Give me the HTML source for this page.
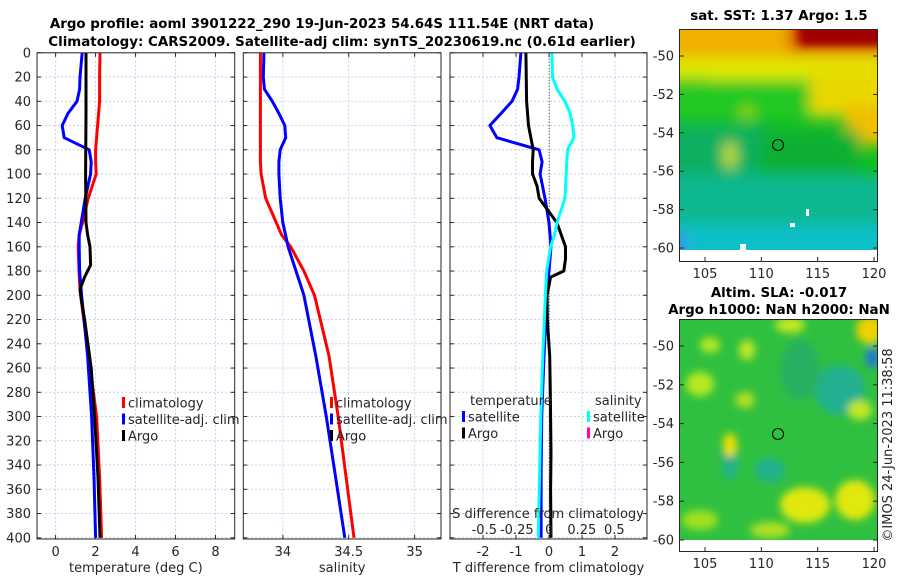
<!DOCTYPE html>
<html><head><meta charset="utf-8"><style>
body{margin:0;background:#fff;}
svg{display:block;font-family:"DejaVu Sans","Liberation Sans",sans-serif;}
.t{font-size:13px;fill:#262626}
.b{font-weight:bold;font-size:13.4px;fill:#000}
</style></head><body>
<svg id="fig" width="900" height="580" viewBox="0 0 900 580">
<defs>
<filter id="bl" filterUnits="userSpaceOnUse" x="600" y="0" width="300" height="580"><feGaussianBlur stdDeviation="7"/></filter>
<filter id="bl2" filterUnits="userSpaceOnUse" x="600" y="0" width="300" height="580"><feGaussianBlur stdDeviation="4"/></filter>
<clipPath id="c1"><rect x="680" y="29" width="197" height="221"/></clipPath>
<clipPath id="c2"><rect x="680" y="319" width="197" height="221"/></clipPath>
</defs>
<text class="b" x="322" y="28" text-anchor="middle">Argo profile: aoml 3901222_290 19-Jun-2023 54.64S 111.54E (NRT data)</text>
<text class="b" x="342" y="46" text-anchor="middle">Climatology: CARS2009. Satellite-adj clim: synTS_20230619.nc (0.61d earlier)</text>

<g id="panels"></g>

<!-- top map -->
<g clip-path="url(#c1)">
<rect x="680" y="29" width="197" height="221" fill="#10c020"/>
<g filter="url(#bl)">
<rect x="660" y="10" width="240" height="55" fill="#f0b000"/>
<rect x="660" y="58" width="240" height="22" fill="#e0e800"/>
<rect x="660" y="75" width="50" height="35" fill="#b0e010"/>
<rect x="660" y="80" width="240" height="40" fill="#20c820"/>
<rect x="810" y="70" width="90" height="45" fill="#e8d800"/>
<rect x="845" y="105" width="50" height="40" fill="#f0c000"/>
<rect x="790" y="10" width="110" height="40" fill="#c82000"/>
<rect x="660" y="125" width="110" height="55" fill="#10b060"/>
<rect x="760" y="130" width="100" height="70" fill="#10b030"/>
<rect x="660" y="175" width="240" height="90" fill="#10b890"/>
<rect x="660" y="225" width="240" height="40" fill="#10c0c8"/>
<rect x="660" y="232" width="25" height="30" fill="#3090f0"/>
<ellipse cx="730" cy="155" rx="5" ry="13" fill="#e8f000"/>
<ellipse cx="747" cy="113" rx="6" ry="5" fill="#c0e000"/>
</g>
<rect x="800" y="20" width="85" height="25" fill="#a00000" filter="url(#bl2)"/>
<rect x="740" y="244" width="6" height="6" fill="#fff"/>
<rect x="790" y="223" width="5" height="4" fill="#fff"/>
<rect x="806" y="209" width="3" height="7" fill="#fff"/>
</g>
<rect x="680" y="250" width="197" height="11" fill="#fff"/>
<rect x="679.5" y="29.5" width="198" height="232" fill="none" stroke="#262626"/>
<circle cx="778" cy="145" r="5.5" fill="none" stroke="#000"/>
<text class="b" x="779" y="20" text-anchor="middle">sat. SST: 1.37 Argo: 1.5</text>

<!-- bottom map -->
<g clip-path="url(#c2)">
<rect x="680" y="319" width="197" height="221" fill="#30c040"/>
<g filter="url(#bl2)">
<ellipse cx="700" cy="384" rx="14" ry="12" fill="#b8e820"/>
<ellipse cx="710" cy="345" rx="10" ry="8" fill="#b0e820"/>
<ellipse cx="747" cy="350" rx="8" ry="10" fill="#c0e820"/>
<ellipse cx="745" cy="400" rx="10" ry="8" fill="#b0e020"/>
<ellipse cx="790" cy="325" rx="15" ry="8" fill="#c0e820"/>
<ellipse cx="870" cy="330" rx="14" ry="14" fill="#f0d000"/>
<ellipse cx="872" cy="358" rx="6" ry="10" fill="#2070e0"/>
<ellipse cx="840" cy="390" rx="25" ry="25" fill="#20b090"/>
<ellipse cx="800" cy="370" rx="20" ry="30" fill="#28b060"/>
<ellipse cx="730" cy="460" rx="8" ry="20" fill="#20b090"/>
<ellipse cx="770" cy="470" rx="15" ry="12" fill="#20b090"/>
<ellipse cx="730" cy="445" rx="7" ry="12" fill="#f0e000"/>
<ellipse cx="805" cy="505" rx="25" ry="18" fill="#e0e810"/>
<ellipse cx="855" cy="500" rx="20" ry="20" fill="#e0e810"/>
<ellipse cx="860" cy="410" rx="12" ry="10" fill="#c0e820"/>
<ellipse cx="770" cy="530" rx="20" ry="8" fill="#b0e020"/>
<ellipse cx="700" cy="520" rx="18" ry="10" fill="#a0e020"/>
</g>
</g>
<rect x="679.5" y="319.5" width="198" height="232" fill="none" stroke="#262626"/>
<circle cx="778" cy="434" r="5.5" fill="none" stroke="#000"/>
<text class="b" x="779" y="297" text-anchor="middle">Altim. SLA: -0.017</text>
<text class="b" x="779" y="314" text-anchor="middle">Argo h1000: NaN h2000: NaN</text>
<text class="t" transform="translate(892,445) rotate(-90)" text-anchor="middle">©IMOS 24-Jun-2023 11:38:58</text>
<g id="maps"></g>
</svg>
<script>
// ---- data ----
const depths = [0,20,30,40,50,60,70,80,90,100,120,140,150,160,180,190,200,250,300,350,400];
const tempClim = [2.22,2.2,2.2,2.2,2.15,2.1,2.05,2.0,2.0,2.03,1.63,1.35,1.18,1.13,1.17,1.2,1.25,1.65,2.05,2.2,2.3];
const tempSat = [1.33,1.22,1.2,1.07,0.62,0.33,0.43,1.68,1.78,1.75,1.48,1.28,1.18,1.18,1.2,1.25,1.3,1.6,1.8,1.92,2.0];
const argoDepths = [0,50,100,140,150,160,175,185,195,205,220,260,300,350,400];
const tempArgo = [1.52,1.52,1.5,1.52,1.6,1.72,1.75,1.45,1.22,1.3,1.45,1.78,1.95,2.12,2.22];
const salClim = [33.83,33.83,33.83,33.83,33.83,33.83,33.83,33.83,33.83,33.835,33.87,33.95,33.99,34.06,34.16,34.2,34.24,34.35,34.42,34.48,34.54];
const salSat = [33.856,33.852,33.86,33.92,33.97,34.015,34.022,33.98,33.97,33.97,33.98,34.0,34.02,34.04,34.1,34.13,34.16,34.25,34.33,34.4,34.47];
const dTsat = [-0.85,-0.91,-0.95,-1.12,-1.45,-1.79,-1.58,-0.3,-0.21,-0.27,-0.12,0,0.03,0.06,0.0,-0.04,-0.06,-0.15,-0.22,-0.24,-0.24];
const dTargo = [-0.7,-0.68,-0.62,-0.48,-0.5,-0.5,-0.36,-0.3,0.24,0.5,0.5,0.45,0.05,-0.06,-0.05,0.02,0.04,0.05,0.06,0.05,0.06];
const dTargoDepths = [0,40,60,80,90,100,110,120,140,160,170,180,185,200,220,250,280,300,330,360,400];
const dSsat = [0.02,0.025,0.06,0.12,0.16,0.18,0.19,0.14,0.135,0.13,0.12,0.06,0.04,0.01,-0.02,-0.025,-0.03,-0.05,-0.065,-0.075,-0.085];
const depthTicks = [0,20,40,60,80,100,120,140,160,180,200,220,240,260,280,300,320,340,360,380,400];
const tTicks = [0,2,4,6,8];
const sTicks = [34,34.5,35];
const dtTicks = [-2,-1,0,1,2];
const dsTicks = [-0.5,-0.25,0,0.25,0.5];
const dsTickLabels = ["-0.5","-0.25","0","0.25","0.5"];
const latTicks = [-50,-52,-54,-56,-58,-60];
const lonTicks = [105,110,115,120];

const NS='http://www.w3.org/2000/svg';
const root=document.getElementById('panels');
function mk(tag,attrs,parent){const e=document.createElementNS(NS,tag);for(const k in attrs)e.setAttribute(k,attrs[k]);(parent||root).appendChild(e);return e;}
const Y0=52.8, YK=1.2125;
const yS=d=>Y0+d*YK;
const P=[
 {l:37,r:234.7,xmin:-0.93,xmax:8.96,name:'temperature'},
 {l:243.3,r:441,xmin:33.7,xmax:35.2,name:'salinity'},
 {l:450,r:647,xmin:-3.0,xmax:2.97,name:'difference'}];
function xf(p,v){return p.l+(v-p.xmin)/(p.xmax-p.xmin)*(p.r-p.l);}
const dsScale=v=>549.3+v*130;

function panel(i,ticks,labels,xlabel){
 const p=P[i];
 const g=mk('g',{});
 
 
 ticks.forEach(t=>{const x=xf(p,t);mk('line',{x1:x,x2:x,y1:52.8,y2:538,stroke:'#c8cff0','stroke-dasharray':'2,2','stroke-width':1},g);});
 depthTicks.forEach(d=>{const y=yS(d);mk('line',{x1:p.l,x2:p.r,y1:y,y2:y,stroke:'#c8cff0','stroke-dasharray':'2,2'},g);
  mk('line',{x1:p.l,x2:p.l+4,y1:y,y2:y,stroke:'#262626'},g);mk('line',{x1:p.r-4,x2:p.r,y1:y,y2:y,stroke:'#262626'},g);});
 ticks.forEach((t,k)=>{const x=xf(p,t);mk('line',{x1:x,x2:x,y1:539-4,y2:539,stroke:'#262626'},g);mk('line',{x1:x,x2:x,y1:52.8,y2:56.8,stroke:'#262626'},g);
  const tx=mk('text',{class:'t',x:x,y:556,'text-anchor':'middle'},g);tx.textContent=labels[k];
  
  });
 const xl=mk('text',{class:'t',x:(p.l+p.r)/2,y:572,'text-anchor':'middle'},g);xl.textContent=xlabel;
 
 
 return g;
}
function line(g,xs,ds,fn,color,name,w){
 const pts=xs.map((v,k)=>fn(v).toFixed(1)+','+yS(ds[k]).toFixed(1)).join(' ');
 const e=mk('polyline',{points:pts,fill:'none',stroke:color,'stroke-width':w||3,'stroke-linejoin':'round'},g);
 
 
}
function frame(i){const p=P[i];const f=mk('rect',{x:p.l,y:52.8,width:p.r-p.l,height:539-52.8,fill:'none',stroke:'#262626'});
 
 }
function legend(x,y,items,g){items.forEach((it,k)=>{
 const yy=y+k*16.5;mk('rect',{x:x,y:yy-6,width:3,height:11,fill:it[1]},g);
 const t=mk('text',{class:'t',x:x+6,y:yy+4.5},g);t.textContent=it[0];
 
 });}

// panel 1
let g=panel(0,tTicks,tTicks.map(String),'temperature (deg C)');
line(g,tempClim,depths,v=>xf(P[0],v),'#ff0000','temp-climatology-line');
line(g,tempSat,depths,v=>xf(P[0],v),'#0000ff','temp-satellite-line');
line(g,tempArgo,argoDepths,v=>xf(P[0],v),'#000000','temp-argo-line');
legend(122,403,[['climatology','#f00'],['satellite-adj. clim','#00f'],['Argo','#000']],g);
depthTicks.forEach(d=>{const t=mk('text',{class:'t',x:31,y:yS(d)+4.5,'text-anchor':'end'});t.textContent=d;
 
 });
// panel 2
g=panel(1,sTicks,['34','34.5','35'],'salinity');
line(g,salClim,depths,v=>xf(P[1],v),'#ff0000','sal-climatology-line');
line(g,salSat,depths,v=>xf(P[1],v),'#0000ff','sal-satellite-line');
legend(330,403,[['climatology','#f00'],['satellite-adj. clim','#00f'],['Argo','#000']],g);
// panel 3
g=panel(2,dtTicks,dtTicks.map(String),'T difference from climatology');
mk('line',{x1:549.3,x2:549.3,y1:52.8,y2:539,stroke:'#333','stroke-dasharray':'1,2'},g);
line(g,dTsat,depths,v=>xf(P[2],v),'#0000ff','dT-satellite-line');
line(g,dTargo,dTargoDepths,v=>xf(P[2],v),'#000000','dT-argo-line');
line(g,dSsat,depths,dsScale,'#00ffff','dS-satellite-line');
legend(462,417,[['satellite','#00f'],['Argo','#000']],g);
legend(587,417,[['satellite','#0ff'],['Argo','#f0c']],g);
let tt=mk('text',{class:'t',x:470,y:405},g);tt.textContent='temperature';


tt=mk('text',{class:'t',x:595,y:405},g);tt.textContent='salinity';


tt=mk('text',{class:'t',x:548,y:518,'text-anchor':'middle'},g);tt.textContent='S difference from climatology';


dsTicks.forEach((v,k)=>{const t=mk('text',{class:'t',x:dsScale(v),y:534,'text-anchor':'middle'},g);t.textContent=dsTickLabels[k];
 
 });
[0,1,2].forEach(frame);

// map axes
const mg=document.getElementById('maps');
function mapAxes(lat50,pxDeg,bottom){
 latTicks.forEach(l=>{const y=lat50+(-50-l)*pxDeg;
  mk('line',{x1:680,x2:684,y1:y,y2:y,stroke:'#262626'},mg);mk('line',{x1:873,x2:877,y1:y,y2:y,stroke:'#262626'},mg);
  const t=mk('text',{class:'t',x:674,y:y+4.5,'text-anchor':'end'},mg);t.textContent=l;
  
  });
 lonTicks.forEach(l=>{const x=705+(l-105)*11.27;
  mk('line',{x1:x,x2:x,y1:bottom-4,y2:bottom,stroke:'#262626'},mg);
  const t=mk('text',{class:'t',x:x,y:bottom+17,'text-anchor':'middle'},mg);t.textContent=l;
  
  });
}
mapAxes(56,19.2,261);
mapAxes(346,19.4,551);
</script>
</body></html>
